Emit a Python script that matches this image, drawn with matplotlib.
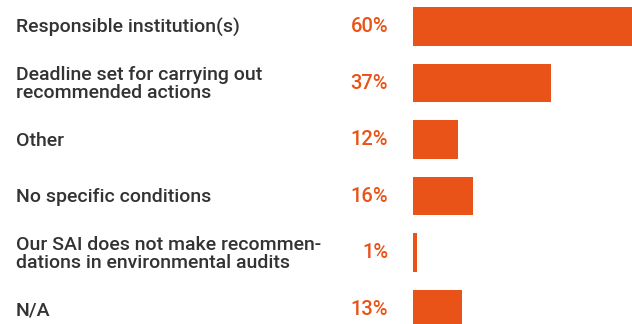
import numpy as np
from matplotlib import pyplot as plt

# data
categories = ["Responsible institution(s)",
              "Deadline set for carrying out\nrecommended actions",
              "Other",
              "No specific conditions",
              "Our SAI does not make recommen-\ndations in environmental audits",
              "N/A"]
values = [60, 37, 12, 16, 1, 13]

orange = "#E95318"
dark = "#333333"
plt.rcParams['font.family'] = ['Roboto', 'DejaVu Sans']

fig = plt.figure(figsize=(6.32, 3.24), dpi=100)
ax = fig.add_axes([413 / 632, 0, 1 - 413 / 632, 1])

y = np.arange(len(values))
ax.barh(y, values, height=0.68, color=orange)
ax.set_xlim(0, 58.6)
ax.set_ylim(5.265, -0.469)
ax.axis('off')

for i, (cat, v) in enumerate(zip(categories, values)):
    ax.annotate(cat, xy=(0, i), xycoords=('figure fraction', 'data'),
                xytext=(16, -1), textcoords='offset pixels',
                ha='left', va='center', fontsize=14, color=dark,
                fontweight='medium', linespacing=1.0)
    ax.annotate("{:d}%".format(v), xy=(388 / 632, i),
                xycoords=('figure fraction', 'data'),
                ha='right', va='center', fontsize=14.5, color=orange,
                fontweight='medium')

plt.savefig("out.png", dpi=100)
